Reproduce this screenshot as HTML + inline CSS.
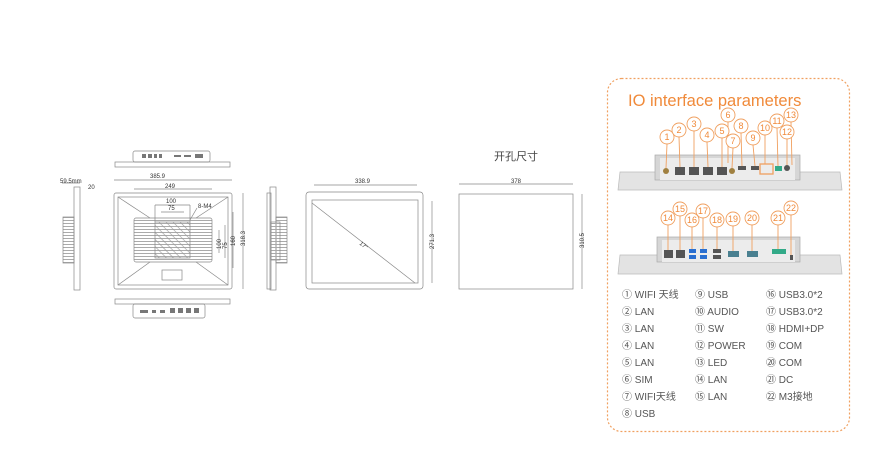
<!DOCTYPE html>
<html><head><meta charset="utf-8"><style>
html,body{margin:0;padding:0;background:#fff;}
svg{display:block;font-family:"Liberation Sans","Noto Sans CJK SC",sans-serif;}
</style></head><body>
<svg width="891" height="474" viewBox="0 0 891 474" xmlns="http://www.w3.org/2000/svg">
<defs>
<pattern id="hat" width="5" height="5" patternUnits="userSpaceOnUse" patternTransform="rotate(-45)">
<line x1="0" y1="0" x2="0" y2="5" stroke="#999" stroke-width="1.2"/></pattern>
<pattern id="fin" width="4" height="3" patternUnits="userSpaceOnUse">
<line x1="0" y1="1.5" x2="4" y2="1.5" stroke="#aaa" stroke-width="1"/></pattern>
</defs>
<g stroke="#888" fill="none" stroke-width="0.7">
<rect x="133" y="151" width="77" height="11" rx="2"/>
<rect x="115" y="162" width="115" height="5"/>
<g fill="#777" stroke="none"><rect x="142" y="154" width="4" height="4"/><rect x="148" y="154" width="4" height="4"/><rect x="154" y="154" width="3" height="4"/><rect x="159" y="154" width="3" height="4"/><rect x="174" y="155" width="7" height="2"/><rect x="184" y="155" width="7" height="2"/><rect x="195" y="154" width="8" height="4"/></g>
<rect x="114" y="193" width="118" height="96" rx="2"/>
<rect x="118" y="197" width="110" height="88"/>
<line x1="118" y1="197" x2="150" y2="218"/><line x1="228" y1="197" x2="196" y2="218"/>
<line x1="118" y1="285" x2="150" y2="262"/><line x1="228" y1="285" x2="196" y2="262"/>
<rect x="134" y="218" width="78" height="44" rx="2" fill="url(#fin)"/>
<rect x="155" y="222" width="35" height="36" fill="url(#hat)"/>
<rect x="162" y="270" width="20" height="10"/>
<line x1="114" y1="180" x2="232" y2="180"/><line x1="134" y1="189" x2="212" y2="189"/>
<line x1="155" y1="205" x2="190" y2="205"/><line x1="161" y1="212" x2="184" y2="212"/>
<line x1="155" y1="205" x2="155" y2="222"/><line x1="190" y1="205" x2="190" y2="222"/>
<line x1="243" y1="193" x2="243" y2="289"/><line x1="233" y1="212" x2="233" y2="268"/>
<line x1="225" y1="225" x2="225" y2="258"/><line x1="219" y1="230" x2="219" y2="253"/>
<line x1="190" y1="220" x2="197" y2="208"/>
<rect x="115" y="299" width="115" height="5"/>
<rect x="133" y="304" width="72" height="14" rx="2"/>
<g fill="#777" stroke="none"><rect x="140" y="310" width="8" height="3"/><rect x="152" y="310" width="4" height="3"/><rect x="160" y="310" width="5" height="3"/><rect x="170" y="308" width="5" height="5"/><rect x="178" y="308" width="5" height="5"/><rect x="186" y="308" width="5" height="5"/><rect x="194" y="308" width="5" height="5"/></g>
<rect x="74" y="187" width="6" height="103"/>
<rect x="63" y="217" width="11" height="46" fill="url(#fin)"/>
<line x1="62" y1="183" x2="80" y2="183"/>
<rect x="270" y="187" width="6" height="103"/>
<rect x="276" y="217" width="11" height="46" fill="url(#fin)"/>
<rect x="267" y="193" width="4" height="96"/>
<rect x="271" y="222" width="9" height="38" fill="url(#fin)"/>
<rect x="306" y="192" width="117" height="97" rx="3"/>
<rect x="312" y="200" width="106" height="83"/>
<line x1="312" y1="203" x2="415" y2="283"/>
<line x1="314" y1="185" x2="417" y2="185"/>
<line x1="432" y1="201" x2="432" y2="283"/>
<rect x="459" y="194" width="114" height="95"/>
<line x1="459" y1="184" x2="573" y2="184"/>
<line x1="582" y1="194" x2="582" y2="289"/>
</g>
<g font-size="6" fill="#333">
<text x="150" y="178">385.9</text><text x="165" y="188">249</text>
<text x="166" y="203">100</text><text x="168" y="210">75</text><text x="198" y="208">8-M4</text>
<text x="60" y="183">59.5mm</text><text x="88" y="189">20</text>
<text x="245" y="246" transform="rotate(-90 245 246)">318.3</text>
<text x="235" y="246" transform="rotate(-90 235 246)">160</text>
<text x="227" y="249" transform="rotate(-90 227 249)">75</text>
<text x="221" y="249" transform="rotate(-90 221 249)">100</text>
<text x="355" y="183">338.9</text><text x="359" y="244" transform="rotate(40 359 244)">17"</text>
<text x="434" y="249" transform="rotate(-90 434 249)">271.3</text>
<text x="511" y="183">378</text>
<text x="584" y="248" transform="rotate(-90 584 248)">310.5</text>
</g>
<text x="494" y="160" font-size="11" fill="#444">开孔尺寸</text>
<rect x="607.5" y="78.5" width="242" height="353" rx="14" fill="none" stroke="#f0a060" stroke-width="1.2" stroke-dasharray="2,2"/>
<text x="628" y="106" font-size="16.5" fill="#f08a3a">IO interface parameters</text>
<polygon points="620,172 840,172 842,190 618,190" fill="#e3e3e3" stroke="#bbb" stroke-width="0.7"/>
<rect x="655" y="155" width="145" height="25" fill="#d6d6d6" stroke="#aaa" stroke-width="0.7"/>
<rect x="660" y="158" width="135" height="22" fill="#ececec"/>
<g fill="#555"><circle cx="666" cy="171" r="3" fill="#a08040"/><rect x="675" y="167" width="10" height="8"/><rect x="689" y="167" width="10" height="8"/><rect x="703" y="167" width="10" height="8"/><rect x="717" y="167" width="10" height="8"/><circle cx="732" cy="171" r="3" fill="#a08040"/><rect x="738" y="166" width="8" height="4"/><rect x="751" y="166" width="8" height="4"/><rect x="775" y="166" width="7" height="5" fill="#3a8"/><circle cx="787" cy="168" r="3"/></g>
<rect x="760" y="164" width="13" height="10" fill="none" stroke="#f0a060" stroke-width="1.3"/>
<polygon points="620,255 840,255 842,274 618,274" fill="#e3e3e3" stroke="#bbb" stroke-width="0.7"/>
<rect x="657" y="237" width="143" height="25" fill="#d6d6d6" stroke="#aaa" stroke-width="0.7"/>
<rect x="662" y="240" width="133" height="22" fill="#ececec"/>
<g fill="#555"><rect x="664" y="250" width="9" height="8"/><rect x="676" y="250" width="9" height="8"/><rect x="689" y="249" width="7" height="4" fill="#2a6fd0"/><rect x="689" y="255" width="7" height="4" fill="#2a6fd0"/><rect x="700" y="249" width="7" height="4" fill="#2a6fd0"/><rect x="700" y="255" width="7" height="4" fill="#2a6fd0"/><rect x="713" y="249" width="8" height="4"/><rect x="713" y="255" width="8" height="4"/><rect x="728" y="251" width="11" height="6" fill="#4a8090"/><rect x="747" y="251" width="11" height="6" fill="#4a8090"/><rect x="772" y="249" width="14" height="5" fill="#3a8"/><rect x="790" y="255" width="3" height="5"/></g>
<g stroke="#f0a060" stroke-width="0.9" fill="#fff" font-size="9" text-anchor="middle">
<g fill="none">
<line x1="667" y1="144" x2="666" y2="168"/><line x1="679" y1="137" x2="680" y2="167"/><line x1="694" y1="131" x2="694" y2="167"/><line x1="707" y1="142" x2="708" y2="167"/><line x1="722" y1="138" x2="722" y2="167"/><line x1="728" y1="122" x2="728" y2="163"/><line x1="733" y1="148" x2="732" y2="168"/><line x1="741" y1="133" x2="742" y2="166"/><line x1="753" y1="145" x2="755" y2="166"/><line x1="765" y1="135" x2="765" y2="164"/><line x1="777" y1="128" x2="778" y2="166"/><line x1="787" y1="139" x2="787" y2="165"/><line x1="791" y1="122" x2="792" y2="165"/>
<line x1="668" y1="225" x2="668" y2="250"/><line x1="680" y1="216" x2="680" y2="250"/><line x1="692" y1="227" x2="692" y2="249"/><line x1="703" y1="218" x2="703" y2="249"/><line x1="717" y1="227" x2="717" y2="249"/><line x1="733" y1="226" x2="733" y2="251"/><line x1="752" y1="225" x2="752" y2="251"/><line x1="778" y1="225" x2="778" y2="249"/><line x1="791" y1="215" x2="791" y2="255"/>
</g>
<g>
<circle cx="667" cy="137" r="7"/><circle cx="679" cy="130" r="7"/><circle cx="694" cy="124" r="7"/><circle cx="707" cy="135" r="7"/><circle cx="722" cy="131" r="7"/><circle cx="728" cy="115" r="7"/><circle cx="733" cy="141" r="7"/><circle cx="741" cy="126" r="7"/><circle cx="753" cy="138" r="7"/><circle cx="765" cy="128" r="7"/><circle cx="777" cy="121" r="7"/><circle cx="787" cy="132" r="7"/><circle cx="791" cy="115" r="7"/>
<circle cx="668" cy="218" r="7"/><circle cx="680" cy="209" r="7"/><circle cx="692" cy="220" r="7"/><circle cx="703" cy="211" r="7"/><circle cx="717" cy="220" r="7"/><circle cx="733" cy="219" r="7"/><circle cx="752" cy="218" r="7"/><circle cx="778" cy="218" r="7"/><circle cx="791" cy="208" r="7"/>
</g>
<g fill="#f08a3a" stroke="none">
<text x="667" y="140">1</text><text x="679" y="133">2</text><text x="694" y="127">3</text><text x="707" y="138">4</text><text x="722" y="134">5</text><text x="728" y="118">6</text><text x="733" y="144">7</text><text x="741" y="129">8</text><text x="753" y="141">9</text><text x="765" y="131">10</text><text x="777" y="124">11</text><text x="787" y="135">12</text><text x="791" y="118">13</text>
<text x="668" y="221">14</text><text x="680" y="212">15</text><text x="692" y="223">16</text><text x="703" y="214">17</text><text x="717" y="223">18</text><text x="733" y="222">19</text><text x="752" y="221">20</text><text x="778" y="221">21</text><text x="791" y="211">22</text>
</g>
</g>
<g font-size="10" fill="#555">
<text x="622" y="298">① WIFI 天线</text><text x="622" y="315">② LAN</text><text x="622" y="332">③ LAN</text><text x="622" y="349">④ LAN</text><text x="622" y="366">⑤ LAN</text><text x="622" y="383">⑥ SIM</text><text x="622" y="400">⑦ WIFI天线</text><text x="622" y="417">⑧ USB</text>
<text x="695" y="298">⑨ USB</text><text x="695" y="315">⑩ AUDIO</text><text x="695" y="332">⑪ SW</text><text x="695" y="349">⑫ POWER</text><text x="695" y="366">⑬ LED</text><text x="695" y="383">⑭ LAN</text><text x="695" y="400">⑮ LAN</text>
<text x="766" y="298">⑯ USB3.0*2</text><text x="766" y="315">⑰ USB3.0*2</text><text x="766" y="332">⑱ HDMI+DP</text><text x="766" y="349">⑲ COM</text><text x="766" y="366">⑳ COM</text><text x="766" y="383">㉑ DC</text><text x="766" y="400">㉒ M3接地</text>
</g>
</svg>
</body></html>
